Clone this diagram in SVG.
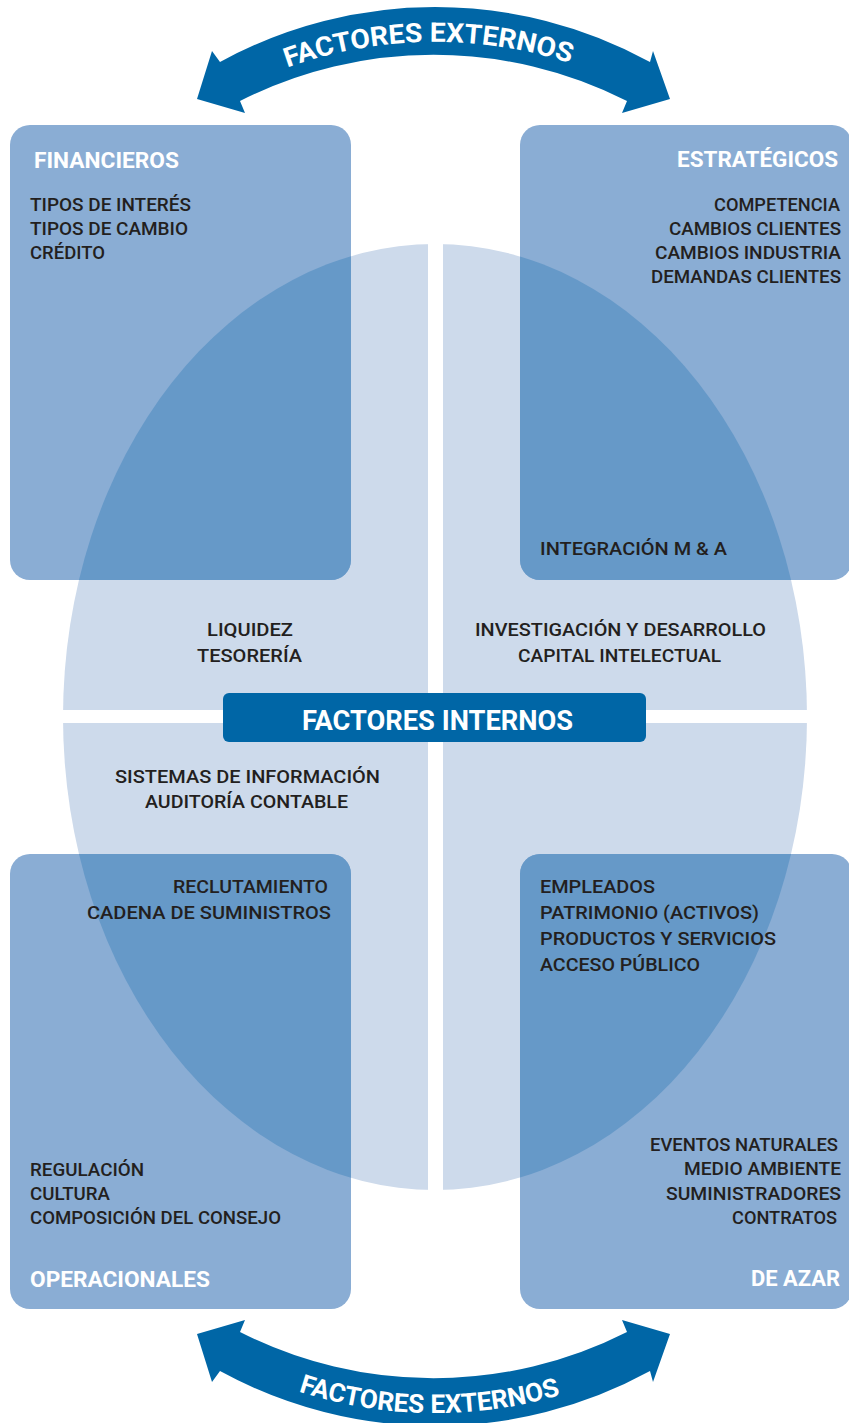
<svg xmlns="http://www.w3.org/2000/svg" width="849" height="1423" viewBox="0 0 849 1423">
<style>
.box{fill:#8aadd4}
.t{font-family:Roboto,"Liberation Sans",sans-serif;font-weight:500;font-size:19px;fill:#231f20}
.h{font-family:Roboto,"Liberation Sans",sans-serif;font-weight:700;font-size:22px;fill:#ffffff}
.w{font-family:Roboto,"Liberation Sans",sans-serif;font-weight:700;fill:#ffffff}
.arrow{fill:#0066a6}
</style>
<defs>
<clipPath id="boxclip">
<rect x="10" y="125" width="341" height="455" rx="20"/>
<rect x="520" y="125" width="332" height="455" rx="20"/>
<rect x="10" y="854" width="341" height="455" rx="20"/>
<rect x="520" y="854" width="332" height="455" rx="20"/>
</clipPath>
<path id="arcTop" d="M 235 90 A 440 440 0 0 1 635 90"/>
<path id="arcBot" d="M 235 1365 A 440 440 0 0 0 635 1365"/>
<path id="arrowShape" d="M 220 62 A 448 448 0 0 1 650 62 L 653 51 L 670 99 L 622 113 L 627 101 A 428 428 0 0 0 240 101 L 245 113 L 197 99 L 212 51 Z"/>
</defs>

<g id="ellipse-base">
<ellipse cx="435" cy="717" rx="372" ry="473" fill="#cddaeb"/>
</g>

<g id="financieros">
<rect class="box" x="10" y="125" width="341" height="455" rx="20"/>
</g>
<g id="estrategicos">
<rect class="box" x="520" y="125" width="332" height="455" rx="20"/>
</g>
<g id="operacionales">
<rect class="box" x="10" y="854" width="341" height="455" rx="20"/>
</g>
<g id="de-azar">
<rect class="box" x="520" y="854" width="332" height="455" rx="20"/>
</g>

<g id="overlap">
<ellipse cx="435" cy="717" rx="372" ry="473" fill="#6699c8" clip-path="url(#boxclip)"/>
</g>

<g id="cross">
<rect x="428" y="230" width="15" height="980" fill="#ffffff"/>
<rect x="50" y="710" width="770" height="13" fill="#ffffff"/>
</g>

<g id="connectors">
<g id="arrow-top">
<use href="#arrowShape" class="arrow"/>
<text class="w" font-size="27"><textPath href="#arcTop" startOffset="48.4%" text-anchor="middle" textLength="288" lengthAdjust="spacingAndGlyphs">FACTORES EXTERNOS</textPath></text>
</g>
<g id="arrow-bottom">
<use href="#arrowShape" class="arrow" transform="translate(0 1433) scale(1 -1)"/>
<text class="w" font-size="26"><textPath href="#arcBot" startOffset="48.6%" text-anchor="middle" textLength="266" lengthAdjust="spacingAndGlyphs">FACTORES EXTERNOS</textPath></text>
</g>
</g>

<g id="factores-internos">
<rect x="223" y="693" width="423" height="49" rx="6" fill="#0066a6"/>
<text class="w" font-size="28" x="302" y="730" textLength="271" lengthAdjust="spacingAndGlyphs">FACTORES INTERNOS</text>
</g>

<g id="financieros-text">
<text class="h" x="34" y="168" textLength="145" lengthAdjust="spacingAndGlyphs">FINANCIEROS</text>
<text class="t" x="30" y="211" textLength="161" lengthAdjust="spacingAndGlyphs">TIPOS DE INTERÉS</text>
<text class="t" x="30" y="235" textLength="158" lengthAdjust="spacingAndGlyphs">TIPOS DE CAMBIO</text>
<text class="t" x="30" y="259" textLength="75" lengthAdjust="spacingAndGlyphs">CRÉDITO</text>
</g>

<g id="estrategicos-text">
<text class="h" x="677" y="167" textLength="161" lengthAdjust="spacingAndGlyphs">ESTRATÉGICOS</text>
<text class="t" x="714" y="211" textLength="126" lengthAdjust="spacingAndGlyphs">COMPETENCIA</text>
<text class="t" x="669" y="235" textLength="172" lengthAdjust="spacingAndGlyphs">CAMBIOS CLIENTES</text>
<text class="t" x="655" y="259" textLength="186" lengthAdjust="spacingAndGlyphs">CAMBIOS INDUSTRIA</text>
<text class="t" x="651" y="283" textLength="190" lengthAdjust="spacingAndGlyphs">DEMANDAS CLIENTES</text>
<text class="t" x="540" y="555" textLength="187" lengthAdjust="spacingAndGlyphs">INTEGRACIÓN M &amp; A</text>
</g>

<g id="internos-text">
<text class="t" x="207" y="636" textLength="86" lengthAdjust="spacingAndGlyphs">LIQUIDEZ</text>
<text class="t" x="197" y="662" textLength="105" lengthAdjust="spacingAndGlyphs">TESORERÍA</text>
<text class="t" x="475" y="636" textLength="291" lengthAdjust="spacingAndGlyphs">INVESTIGACIÓN Y DESARROLLO</text>
<text class="t" x="518" y="662" textLength="203" lengthAdjust="spacingAndGlyphs">CAPITAL INTELECTUAL</text>
<text class="t" x="115" y="783" textLength="265" lengthAdjust="spacingAndGlyphs">SISTEMAS DE INFORMACIÓN</text>
<text class="t" x="145" y="808" textLength="203" lengthAdjust="spacingAndGlyphs">AUDITORÍA CONTABLE</text>
<text class="t" x="173" y="893" textLength="155" lengthAdjust="spacingAndGlyphs">RECLUTAMIENTO</text>
<text class="t" x="87" y="919" textLength="244" lengthAdjust="spacingAndGlyphs">CADENA DE SUMINISTROS</text>
<text class="t" x="540" y="893" textLength="115" lengthAdjust="spacingAndGlyphs">EMPLEADOS</text>
<text class="t" x="540" y="919" textLength="219" lengthAdjust="spacingAndGlyphs">PATRIMONIO (ACTIVOS)</text>
<text class="t" x="540" y="945" textLength="236" lengthAdjust="spacingAndGlyphs">PRODUCTOS Y SERVICIOS</text>
<text class="t" x="540" y="971" textLength="160" lengthAdjust="spacingAndGlyphs">ACCESO PÚBLICO</text>
</g>

<g id="operacionales-text">
<text class="t" x="30" y="1176" textLength="114" lengthAdjust="spacingAndGlyphs">REGULACIÓN</text>
<text class="t" x="30" y="1200" textLength="80" lengthAdjust="spacingAndGlyphs">CULTURA</text>
<text class="t" x="30" y="1224" textLength="251" lengthAdjust="spacingAndGlyphs">COMPOSICIÓN DEL CONSEJO</text>
<text class="h" x="30" y="1287" textLength="180" lengthAdjust="spacingAndGlyphs">OPERACIONALES</text>
</g>

<g id="de-azar-text">
<text class="t" x="650" y="1151" textLength="188" lengthAdjust="spacingAndGlyphs">EVENTOS NATURALES</text>
<text class="t" x="684" y="1175" textLength="157" lengthAdjust="spacingAndGlyphs">MEDIO AMBIENTE</text>
<text class="t" x="666" y="1200" textLength="175" lengthAdjust="spacingAndGlyphs">SUMINISTRADORES</text>
<text class="t" x="732" y="1224" textLength="105" lengthAdjust="spacingAndGlyphs">CONTRATOS</text>
<text class="h" x="751" y="1286" textLength="89" lengthAdjust="spacingAndGlyphs">DE AZAR</text>
</g>
</svg>
